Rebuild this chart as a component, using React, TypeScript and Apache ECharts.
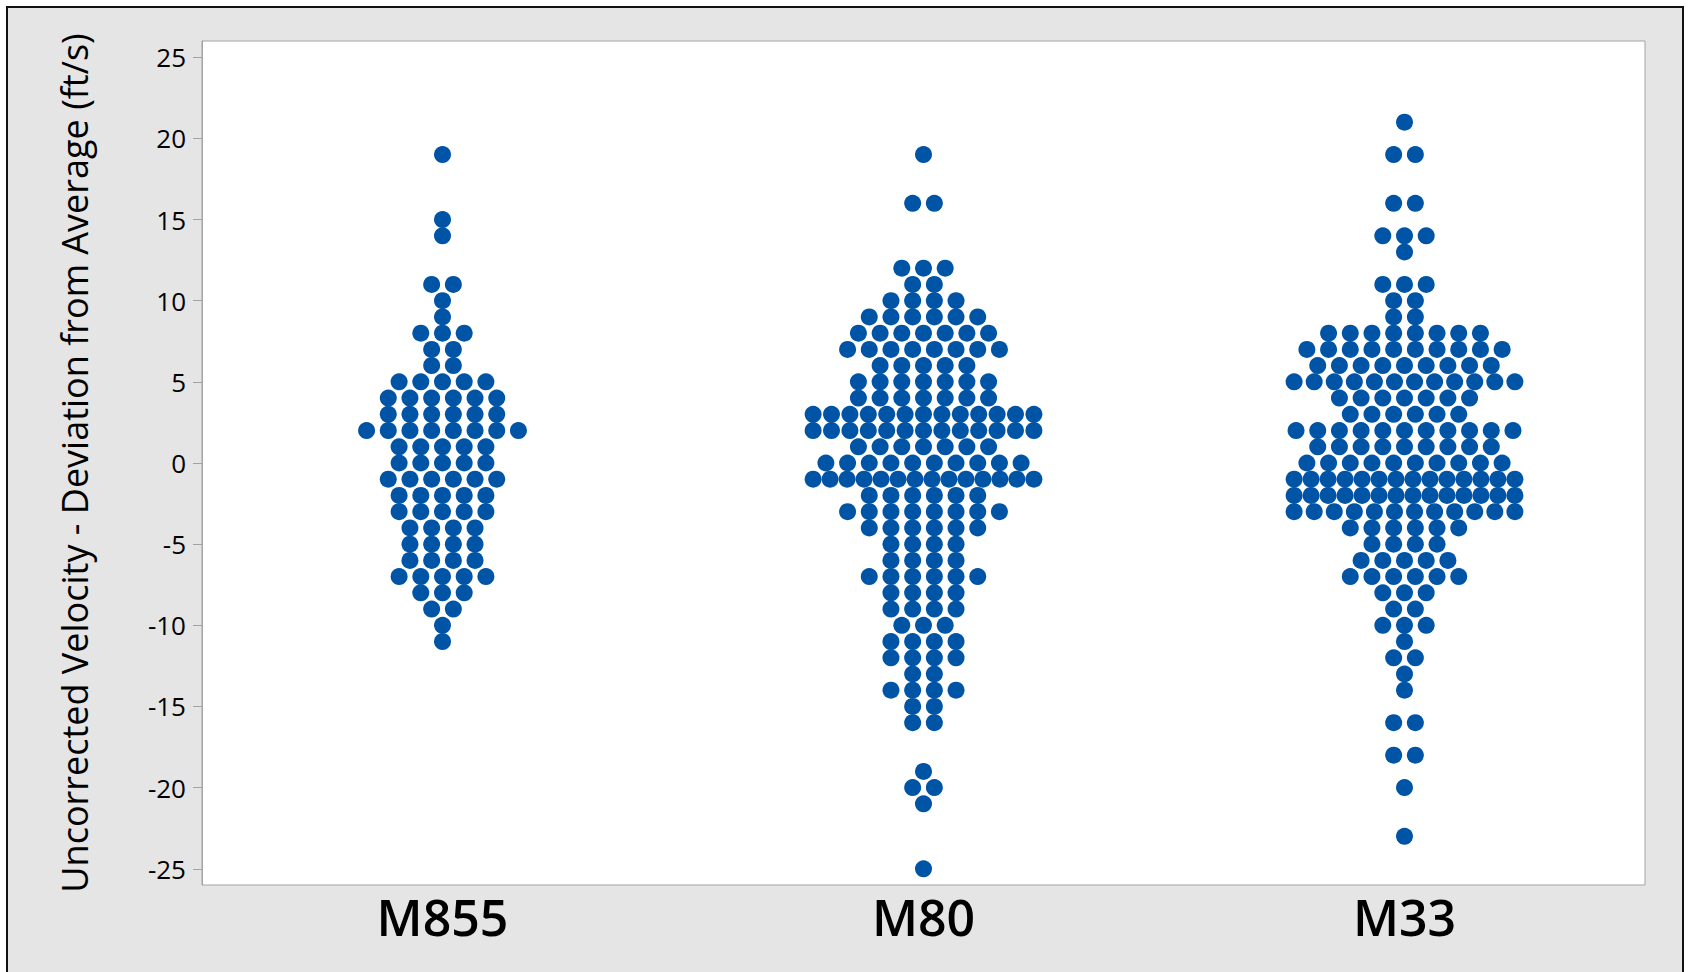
import React, { useEffect, useRef } from "react";
import * as echarts from "echarts";

const categories = ["M855", "M80", "M33"];

const m855Values = [19, 15, 14, 11, 10, 9, 8, 7, 6, 5, 4, 3, 2, 1, 0, -1, -2, -3, -4, -5, -6, -7, -8, -9, -10, -11];
const m855Counts = [1, 1, 1, 2, 1, 1, 3, 2, 2, 5, 6, 6, 8, 5, 5, 6, 5, 5, 4, 4, 4, 5, 3, 2, 1, 1];

const m80Values = [19, 16, 12, 11, 10, 9, 8, 7, 6, 5, 4, 3, 2, 1, 0, -1, -2, -3, -4, -5, -6, -7, -8, -9, -10, -11, -12, -13, -14, -15, -16, -19, -20, -21, -25];
const m80Counts = [1, 2, 3, 2, 4, 6, 7, 8, 5, 7, 7, 13, 13, 7, 10, 14, 6, 8, 6, 4, 4, 6, 4, 4, 3, 4, 4, 2, 4, 2, 2, 1, 2, 1, 1];

const m33Values = [21, 19, 16, 14, 13, 11, 10, 9, 8, 7, 6, 5, 4, 3, 2, 1, 0, -1, -2, -3, -4, -5, -6, -7, -8, -9, -10, -11, -12, -13, -14, -16, -18, -20, -23];
const m33Counts = [1, 2, 2, 3, 1, 3, 2, 2, 8, 10, 9, 12, 7, 6, 11, 9, 10, 14, 14, 12, 6, 4, 5, 6, 3, 2, 3, 1, 2, 1, 1, 2, 2, 1, 1];

const yTicks = [-25, -20, -15, -10, -5, 0, 5, 10, 15, 20, 25];

const groups = [
  { values: m855Values, counts: m855Counts },
  { values: m80Values, counts: m80Counts },
  { values: m33Values, counts: m33Counts },
];

// layout constants (in x-value units, one category = 1 unit)
const DOT_STEP = 0.0451;
const MAX_SPAN = 0.459;

function buildPoints(): number[][] {
  const pts: number[][] = [];
  groups.forEach((g, gi) => {
    g.values.forEach((v, k) => {
      const n = g.counts[k];
      const step = n > 1 ? Math.min(DOT_STEP, MAX_SPAN / (n - 1)) : 0;
      for (let i = 0; i < n; i++) {
        pts.push([gi + (i - (n - 1) / 2) * step, v]);
      }
    });
  });
  return pts;
}

const FONT = "'Segoe UI', 'Open Sans', 'Noto Sans', sans-serif";

export default function App() {
  const ref = useRef<HTMLDivElement>(null);
  useEffect(() => {
    if (!ref.current) return;
    const chart = echarts.init(ref.current, undefined, { renderer: "svg" });
    chart.setOption({
      animation: false,
      backgroundColor: "#ffffff",
      graphic: [
        {
          type: "rect",
          z: -100,
          silent: true,
          shape: { x: 7, y: 7, width: 1676, height: 975 },
          style: { fill: "#e5e5e5", stroke: "#111111", lineWidth: 2 },
        },
      ],
      grid: {
        left: 202,
        top: 41,
        width: 1443,
        height: 844,
        show: true,
        backgroundColor: "#ffffff",
        borderColor: "#a3a3a3",
        borderWidth: 1,
      },
      xAxis: [
        {
          type: "category",
          data: categories,
          boundaryGap: true,
          position: "bottom",
          axisLine: { show: false },
          axisTick: { show: false },
          splitLine: { show: false },
          axisLabel: {
            fontSize: 50,
            fontWeight: 600,
            color: "#000000",
            fontFamily: FONT,
            margin: 7,
          },
        },
        {
          type: "value",
          min: -0.5,
          max: 2.5,
          show: false,
          splitLine: { show: false },
        },
      ],
      yAxis: {
        type: "value",
        min: -26,
        max: 26,
        name: "Uncorrected Velocity - Deviation from Average (ft/s)",
        nameLocation: "middle",
        nameGap: 110,
        nameTextStyle: { fontSize: 36, color: "#000000", fontFamily: FONT },
        axisLine: { show: true, onZero: false, lineStyle: { color: "#a3a3a3" } },
        axisTick: {
          show: true,
          length: 9,
          customValues: yTicks,
          lineStyle: { color: "#a3a3a3" },
        },
        axisLabel: {
          customValues: yTicks,
          fontSize: 26,
          color: "#000000",
          fontFamily: FONT,
          margin: 16,
        },
        splitLine: { show: false },
      },
      series: [
        {
          type: "scatter",
          xAxisIndex: 1,
          symbol: "circle",
          symbolSize: 17,
          itemStyle: { color: "#0054a6", opacity: 1 },
          data: buildPoints(),
        },
      ],
    });
    return () => chart.dispose();
  }, []);
  return (
    <div
      ref={ref}
      style={{ position: "fixed", left: 0, top: 0, width: 1692, height: 972 }}
    />
  );
}
